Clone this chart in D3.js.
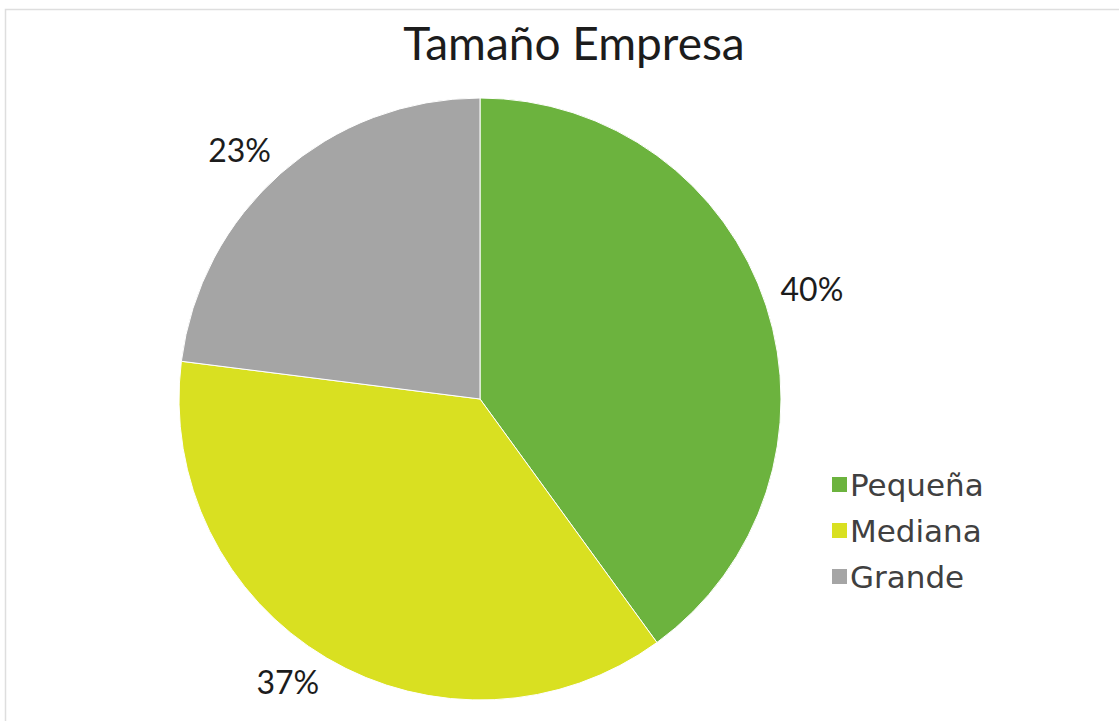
<!DOCTYPE html>
<html>
<head>
<meta charset="utf-8">
<script src="https://cdn.jsdelivr.net/npm/d3@7"></script>
<style>
  html, body { margin: 0; padding: 0; background: #ffffff; }
  svg { display: block; }
  text { font-family: Lato, "Open Sans", sans-serif; fill: #1c1c1c; }
</style>
</head>
<body>
<svg id="chart" width="1119" height="721"></svg>
<script>
// Company size distribution
const title = "Tamaño Empresa";
const categories = ["Pequeña", "Mediana", "Grande"];
const shares = [40, 37, 23];
const colors = ["#6cb33e", "#d9e021", "#a5a5a5"];

const svg = d3.select("#chart");
const W = 1119, H = 721;

// chart frame
svg.append("rect")
  .attr("x", 5.5).attr("y", 9.5)
  .attr("width", W + 10).attr("height", H + 10)
  .attr("fill", "#ffffff")
  .attr("stroke", "#dedede")
  .attr("stroke-width", 1.5);

svg.append("text")
  .attr("x", 574).attr("y", 60)
  .attr("text-anchor", "middle")
  .style("font-size", "46px")
  .text(title);

const cx = 480, cy = 399, r = 301;

const pie = d3.pie().sort(null).value(d => d);
const arcs = pie(shares);
const arc = d3.arc().innerRadius(0).outerRadius(r);

const g = svg.append("g").attr("transform", `translate(${cx},${cy})`);

g.selectAll("path")
  .data(arcs)
  .join("path")
  .attr("d", arc)
  .attr("fill", (d, i) => colors[i])
  .attr("stroke", "#ffffff")
  .attr("stroke-width", 1);

// percentage labels: the label's nearest corner sits on the slice's
// mid-angle ray, just outside the rim
const labelSize = 32, capH = labelSize * 0.72, gap = 15;
g.selectAll("text.pct")
  .data(arcs)
  .join("text")
  .attr("class", "pct")
  .each(function (d) {
    const a = (d.startAngle + d.endAngle) / 2;
    const px = (r + gap) * Math.sin(a);
    const py = -(r + gap) * Math.cos(a);
    const right = Math.sin(a) >= 0, top = Math.cos(a) >= 0;
    d3.select(this)
      .attr("x", px)
      .attr("y", top ? py : py + capH)
      .attr("text-anchor", right ? "start" : "end");
  })
  .style("font-size", labelSize + "px")
  .text(d => d.data + "%");

// legend
const legend = svg.append("g").attr("transform", "translate(832,485)");
const rows = legend.selectAll("g")
  .data(categories)
  .join("g")
  .attr("transform", (d, i) => `translate(0,${i * 46})`);
rows.append("rect")
  .attr("x", 0).attr("y", -8)
  .attr("width", 15).attr("height", 15)
  .attr("fill", (d, i) => colors[i]);
rows.append("text")
  .attr("x", 18).attr("y", 0)
  .attr("dominant-baseline", "central")
  .style("font-family", "'DejaVu Sans', sans-serif")
  .style("font-size", "31px")
  .style("fill", "#404040")
  .text(d => d);
</script>
</body>
</html>
